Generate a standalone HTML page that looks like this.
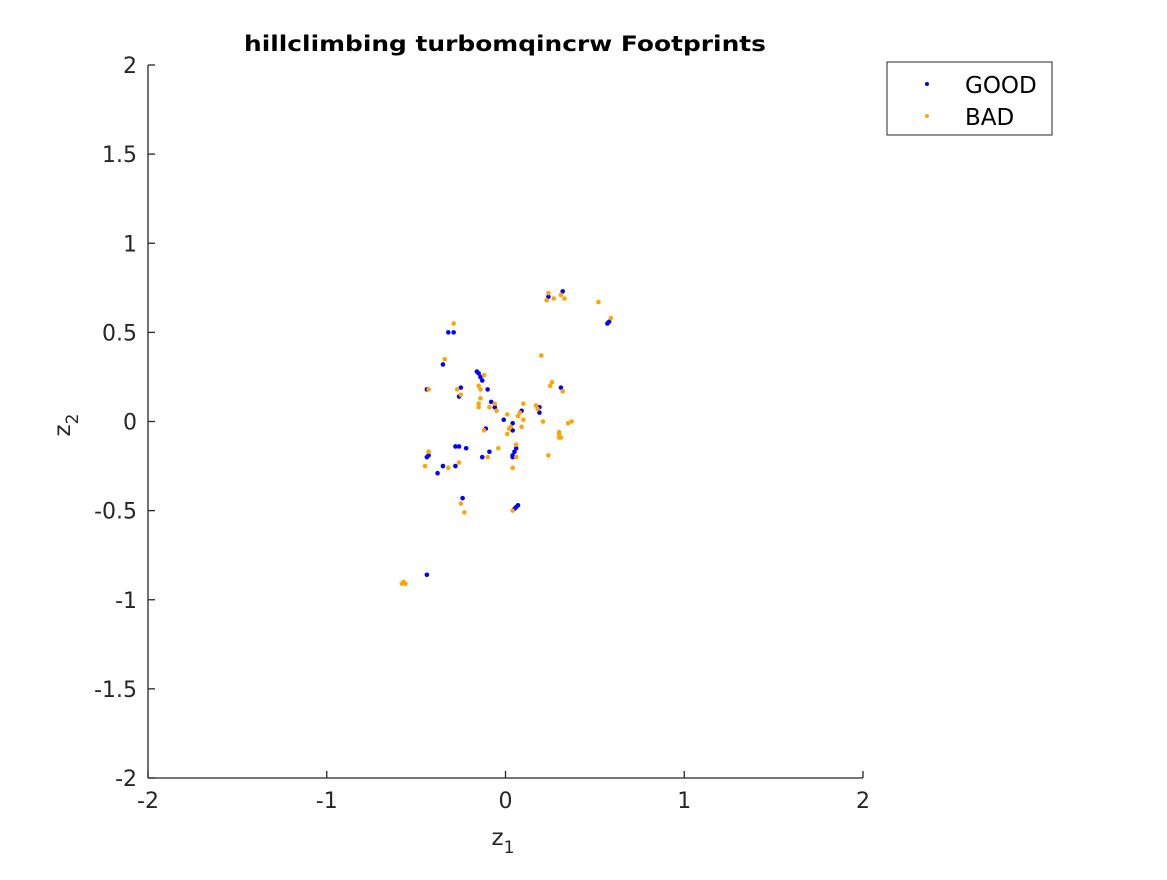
<!DOCTYPE html>
<html><head><meta charset="utf-8"><style>
html,body{margin:0;padding:0;background:#fff;}
svg text{font-family:"DejaVu Sans","Liberation Sans",sans-serif;fill:#262626;}
</style></head><body>
<svg id="chart" width="1167" height="875" viewBox="0 0 1167 875" xmlns="http://www.w3.org/2000/svg">
<rect width="1167" height="875" fill="#fff"/>
<g id="axes"></g>
<g id="points"></g>
<text x="505" y="51" text-anchor="middle" font-size="21" font-weight="bold" textLength="522" lengthAdjust="spacingAndGlyphs" style="fill:#000">hillclimbing turbomqincrw Footprints</text>
<text x="503" y="845" text-anchor="middle" font-size="23">z<tspan font-size="17" dy="8">1</tspan></text>
<text transform="translate(70,425) rotate(-90)" text-anchor="middle" font-size="23">z<tspan font-size="17" dy="8">2</tspan></text>
<g>
<rect x="887" y="62" width="165" height="73" fill="#fff" stroke="#262626" stroke-width="1"/>
<circle cx="927" cy="84" r="2" fill="#0000ff"/>
<text x="965" y="93" font-size="23" style="fill:#000">GOOD</text>
<circle cx="927" cy="116" r="2" fill="#ffa500"/>
<text x="965" y="125" font-size="23" style="fill:#000">BAD</text>
</g>
</svg>
<script>
const xTicks=[-2,-1,0,1,2];
const yTicks=[-2,-1.5,-1,-0.5,0,0.5,1,1.5,2];
const goodX=[0.32,0.24,0.58,0.57,-0.29,-0.32,-0.35,-0.16,-0.15,-0.14,-0.13,-0.44,-0.25,-0.26,-0.10,0.31,-0.08,-0.06,0.19,0.19,0.09,-0.01,0.04,-0.11,0.04,-0.28,-0.26,-0.22,-0.09,-0.43,-0.44,-0.35,-0.28,-0.38,-0.13,0.04,0.05,0.06,0.04,-0.24,0.06,0.07,0.05,-0.44];
const goodY=[0.73,0.70,0.56,0.55,0.50,0.50,0.32,0.28,0.27,0.25,0.23,0.18,0.19,0.14,0.18,0.19,0.11,0.08,0.08,0.05,0.06,0.01,-0.01,-0.04,-0.05,-0.14,-0.14,-0.15,-0.17,-0.19,-0.20,-0.25,-0.25,-0.29,-0.20,-0.19,-0.17,-0.15,-0.20,-0.43,-0.48,-0.47,-0.49,-0.86];
const badX=[0.24,0.31,0.23,0.27,0.33,0.52,0.59,-0.29,-0.34,0.20,-0.12,-0.15,-0.14,-0.27,-0.25,0.26,0.25,0.32,-0.43,-0.14,-0.15,-0.15,-0.06,-0.09,-0.05,0.10,0.17,0.18,0.08,0.07,0.10,0.21,0.01,0.37,0.35,0.03,0.02,0.09,0.30,0.31,0.30,0.01,-0.12,0.30,-0.04,0.06,-0.43,-0.45,-0.32,-0.26,-0.10,0.06,0.24,0.04,-0.25,-0.23,0.04,-0.57,-0.58,-0.56];
const badY=[0.72,0.71,0.68,0.69,0.69,0.67,0.58,0.55,0.35,0.37,0.26,0.20,0.18,0.18,0.15,0.22,0.20,0.17,0.18,0.13,0.10,0.08,0.10,0.08,0.06,0.10,0.09,0.07,0.05,0.03,0.01,0.00,0.04,0.00,-0.01,-0.03,-0.04,-0.03,-0.06,-0.09,-0.09,-0.07,-0.05,-0.07,-0.15,-0.13,-0.17,-0.25,-0.26,-0.23,-0.20,-0.20,-0.19,-0.26,-0.46,-0.51,-0.50,-0.90,-0.91,-0.91];
const NS='http://www.w3.org/2000/svg';
const L=148,R=863,T=65,B=778;
function sx(v){return L+(v+2)/4*(R-L);}
function sy(v){return B-(v+2)/4*(B-T);}
function mk(tag,attrs,parent){const e=document.createElementNS(NS,tag);for(const k in attrs)e.setAttribute(k,attrs[k]);parent.appendChild(e);return e;}
const ax=document.getElementById('axes');
let a=mk('line',{x1:L,y1:B,x2:R,y2:B,stroke:'#262626','stroke-width':1.3},ax);


a=mk('line',{x1:L,y1:T,x2:L,y2:B,stroke:'#262626','stroke-width':1.3},ax);


xTicks.forEach(v=>{const x=sx(v);
 const t=mk('line',{x1:x,y1:B,x2:x,y2:B-7,stroke:'#262626','stroke-width':1.3},ax);
 
 
 const tx=mk('text',{x:x,y:B+30,'text-anchor':'middle','font-size':22},ax);tx.textContent=String(v);
 
 
});
yTicks.forEach(v=>{const y=sy(v);
 const t=mk('line',{x1:L,y1:y,x2:L+7,y2:y,stroke:'#262626','stroke-width':1.3},ax);
 
 
 const tx=mk('text',{x:L-11,y:y+8,'text-anchor':'end','font-size':22},ax);tx.textContent=String(v);
 
 
});
const pg=document.getElementById('points');
goodX.forEach((v,i)=>{const c=mk('circle',{cx:sx(v),cy:sy(goodY[i]),r:2.3,fill:'#0000ff'},pg);
 
 
});
badX.forEach((v,i)=>{const c=mk('circle',{cx:sx(v),cy:sy(badY[i]),r:2.3,fill:'#ffa500'},pg);
 
 
});
</script>
</body></html>
